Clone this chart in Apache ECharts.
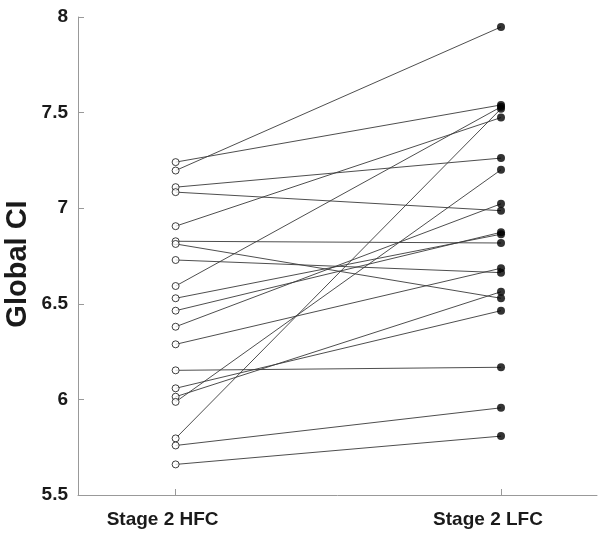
<!DOCTYPE html>
<html>
<head>
<meta charset="utf-8">
<script src="https://cdn.jsdelivr.net/npm/echarts@6/dist/echarts.min.js"></script>
<style>html,body{margin:0;padding:0;background:#fff}#c{width:604px;height:533px}</style>
</head>
<body>
<div id="c"></div>
<script>
var categories = ['Stage 2 HFC', 'Stage 2 LFC'];
var hfc = [7.241, 7.197, 7.110, 7.084, 6.906, 6.827, 6.813, 6.729, 6.593, 6.529,
           6.464, 6.380, 6.288, 6.152, 6.058, 6.014, 5.987, 5.796, 5.759, 5.660];
var lfc = [7.540, 7.948, 7.262, 6.987, 7.474, 6.818, 6.529, 6.663, 7.530, 6.864,
           6.874, 7.023, 6.686, 6.168, 6.464, 6.563, 7.201, 7.520, 5.956, 5.808];
var yTicks = [5.5, 6, 6.5, 7, 7.5, 8];

var chart = echarts.init(document.getElementById('c'));
var series = [];
for (var i = 0; i < hfc.length; i++) {
  series.push({
    type: 'line', data: [[0, hfc[i]], [1, lfc[i]]], showSymbol: false, silent: true,
    lineStyle: {color: '#3a3a3a', width: 0.9}, z: 1, animation: false
  });
}
series.push({
  type: 'scatter', data: hfc.map(function (v) { return [0, v]; }), symbol: 'circle', symbolSize: 7,
  itemStyle: {color: '#fff', borderColor: '#111', borderWidth: 1}, z: 3, animation: false
});
series.push({
  type: 'scatter', data: lfc.map(function (v) { return [1, v]; }), symbol: 'circle', symbolSize: 8,
  itemStyle: {color: '#000'}, z: 3, animation: false
});
var labelFont = {fontFamily: 'Liberation Sans, Arial, sans-serif', fontWeight: 'bold', fontSize: 19, color: '#1a1a1a'};
chart.setOption({
  animation: false,
  grid: {left: 78, right: 7, top: 17, bottom: 38, containLabel: false, outerBoundsMode: 'none'},
  xAxis: {
    type: 'value', min: -0.3, max: 1.295,
    axisLine: {show: true, onZero: false, lineStyle: {color: '#999', width: 1}},
    axisTick: {show: true, inside: true, length: 6, lineStyle: {color: '#999'}, customValues: [0, 1]},
    axisLabel: Object.assign({margin: 15, padding: [0, 26, 0, 0], customValues: [0, 1], formatter: function (v) { return categories[Math.round(v)]; }}, labelFont),
    splitLine: {show: false}
  },
  yAxis: {
    type: 'value', min: 5.5, max: 8, interval: 0.5,
    name: 'Global CI', nameLocation: 'middle', nameGap: 46, nameRotate: 90, nameMoveOverlap: false,
    nameTextStyle: {fontFamily: 'Liberation Sans, Arial, sans-serif', fontWeight: 'bold', fontSize: 29, color: '#1a1a1a', padding: [0, 16, 0, 0]},
    axisLine: {show: true, onZero: false, lineStyle: {color: '#999', width: 1}},
    axisTick: {show: true, inside: true, length: 6, lineStyle: {color: '#999'}},
    axisLabel: Object.assign({margin: 10, formatter: function (v) { return yTicks.indexOf(v) >= 0 ? String(v) : ''; }}, labelFont),
    splitLine: {show: false}
  },
  series: series
});
</script>
</body>
</html>
